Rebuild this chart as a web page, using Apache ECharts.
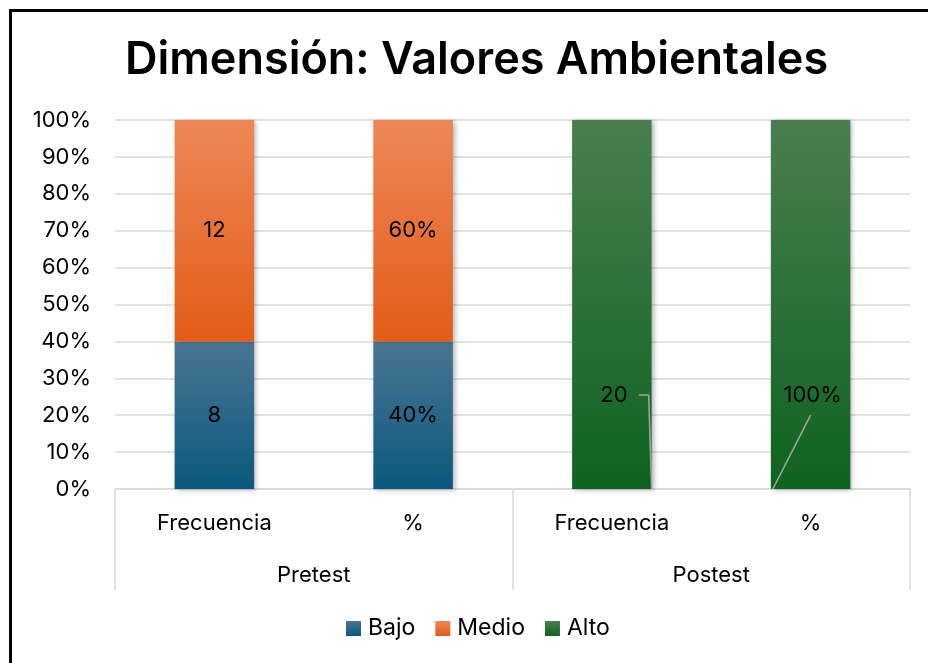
<!DOCTYPE html>
<html>
<head>
<meta charset="utf-8">
<script src="https://cdn.jsdelivr.net/npm/echarts@6/dist/echarts.min.js"></script>
<style>
    html, body { margin: 0; padding: 0; background: #fff; }
    #chart { width: 928px; height: 663px; }
</style>
</head>
<body>
<div id="chart"></div>
<script>
    // datos
    const categories = ['Frecuencia', '%', 'Frecuencia', '%'];
    const groups = ['Pretest', 'Postest'];
    const bajo = [8, 0.40, 0, 0];
    const medio = [12, 0.60, 0, 0];
    const alto = [0, 0, 20, 1.00];
    const yTicks = [0, 0.1, 0.2, 0.3, 0.4, 0.5, 0.6, 0.7, 0.8, 0.9, 1];

    // lineas guia de las etiquetas de Alto (eje auxiliar 0..4)
    const leaderFrec = [[2.635, 0.255], [2.685, 0.255], [2.70, 0]];
    const leaderPct = [[3.5, 0.20], [3.31, 0]];

    const totals = categories.map((c, i) => bajo[i] + medio[i] + alto[i]);
    const share = arr => arr.map((v, i) => totals[i] ? v / totals[i] : 0);

    const font = 'Inter, "Noto Sans", sans-serif';

    function fmt (arr) {
        return function (p) {
            const v = arr[p.dataIndex];
            if (!v) return '';
            return categories[p.dataIndex] === '%' ? Math.round(v * 100) + '%' : String(v);
        };
    }

    function grad (top, bottom) {
        return new echarts.graphic.LinearGradient(0, 0, 0, 1, [
            { offset: 0, color: top },
            { offset: 1, color: bottom }
        ]);
    }

    const barStyle = {
        shadowBlur: 5,
        shadowColor: 'rgba(0,0,0,0.3)',
        shadowOffsetX: 2,
        shadowOffsetY: 1
    };

    const chart = echarts.init(document.getElementById('chart'));
    const option = {
        backgroundColor: '#fff',
        animation: false,
        graphic: [{
            type: 'rect',
            left: 8, top: 8,
            shape: { width: 960, height: 700 },
            style: { fill: 'none', stroke: '#000', lineWidth: 3 },
            silent: true
        }],
        title: {
            text: 'Dimensión: Valores Ambientales',
            left: 120,
            top: 33,
            textStyle: { fontFamily: font, fontSize: 45, fontWeight: 600, color: '#000' }
        },
        legend: {
            data: ['Bajo', 'Medio', 'Alto'],
            bottom: 18,
            left: 341,
            itemWidth: 15,
            itemHeight: 15,
            itemGap: 20,
            icon: 'rect',
            textStyle: { fontFamily: font, fontSize: 23, color: '#000', padding: [0, 0, 0, 2] }
        },
        grid: { left: 115, right: 18, top: 120, bottom: 174, containLabel: false },
        xAxis: [
            {
                type: 'category',
                data: categories,
                axisLine: { lineStyle: { color: '#d9d9d9', width: 1.5 } },
                axisTick: { show: false },
                axisLabel: { fontFamily: font, fontSize: 22, color: '#000', margin: 23 }
            },
            {
                type: 'category',
                data: groups,
                position: 'bottom',
                axisLine: { show: false },
                axisTick: { show: true, length: 101, interval: 0, lineStyle: { color: '#d9d9d9', width: 1.5 } },
                axisLabel: { fontFamily: font, fontSize: 22, color: '#000', margin: 75 }
            },
            {
                type: 'value',
                min: 0, max: 4,
                show: false
            }
        ],
        yAxis: {
            type: 'value',
            min: 0, max: 1, interval: 0.1,
            axisLine: { show: false },
            axisTick: { show: false },
            splitLine: { lineStyle: { color: '#d9d9d9', width: 1.5 } },
            axisLabel: {
                fontFamily: font, fontSize: 22, color: '#000', margin: 24,
                formatter: v => Math.round(v * 100) + '%',
                customValues: yTicks
            }
        },
        series: [
            {
                name: 'Bajo',
                type: 'bar',
                stack: 'total',
                barWidth: '40%',
                data: share(bajo),
                itemStyle: Object.assign({ color: grad('#4b7593', '#0a587c') }, barStyle),
                label: { show: true, position: 'inside', fontFamily: font, fontSize: 22, color: '#000', formatter: fmt(bajo) }
            },
            {
                name: 'Medio',
                type: 'bar',
                stack: 'total',
                barWidth: '40%',
                data: share(medio),
                itemStyle: Object.assign({ color: grad('#ee8758', '#e25c17') }, barStyle),
                label: { show: true, position: 'inside', fontFamily: font, fontSize: 22, color: '#000', formatter: fmt(medio) }
            },
            {
                name: 'Alto',
                type: 'bar',
                stack: 'total',
                barWidth: '40%',
                data: share(alto),
                itemStyle: Object.assign({ color: grad('#4a7e50', '#0e631f') }, barStyle),
                label: { show: true, position: 'inside', offset: [2, 91], fontFamily: font, fontSize: 22, color: '#000', formatter: fmt(alto) }
            },
            {
                name: 'guia1',
                type: 'line',
                xAxisIndex: 2,
                data: leaderFrec,
                symbol: 'none',
                silent: true,
                z: 5,
                lineStyle: { color: '#a6a6a6', width: 1.5 }
            },
            {
                name: 'guia2',
                type: 'line',
                xAxisIndex: 2,
                data: leaderPct,
                symbol: 'none',
                silent: true,
                z: 5,
                lineStyle: { color: '#a6a6a6', width: 1.5 }
            }
        ]
    };
    chart.setOption(option);
</script>
</body>
</html>
